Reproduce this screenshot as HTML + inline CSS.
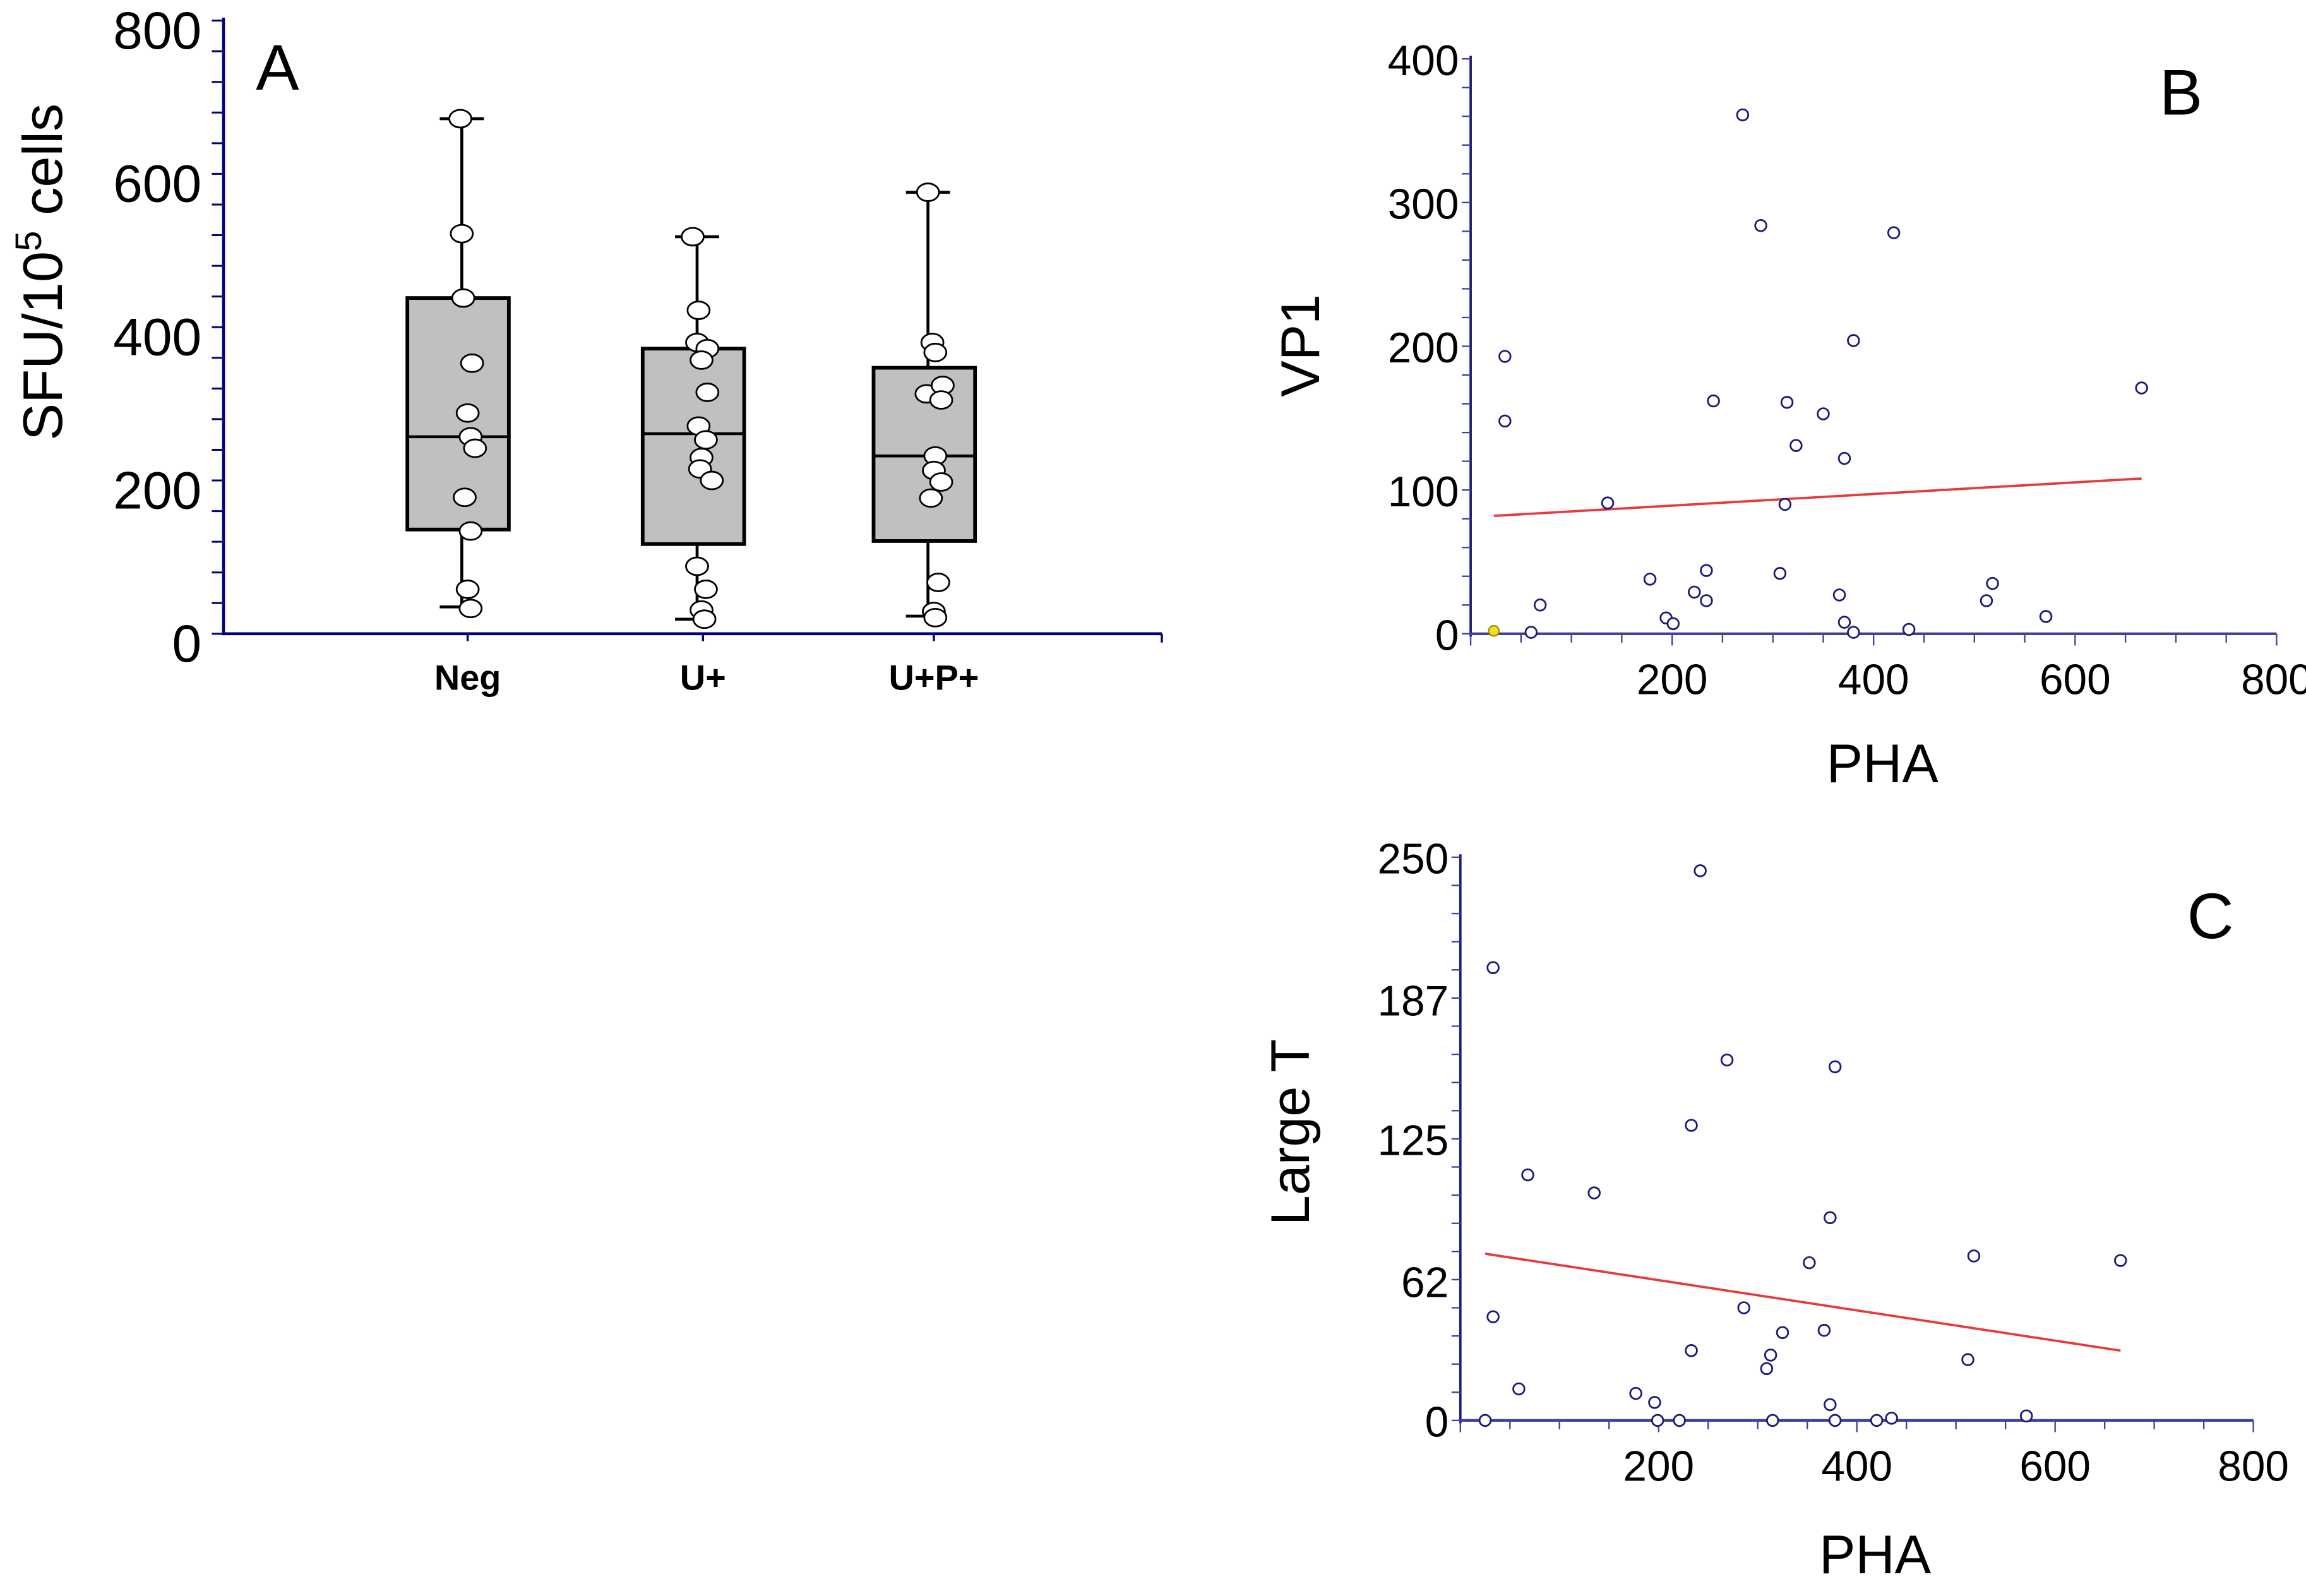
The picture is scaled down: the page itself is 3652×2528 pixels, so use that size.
<!DOCTYPE html>
<html><head><meta charset="utf-8"><style>
html,body{margin:0;padding:0;background:#fff}
svg{display:block}
text{font-family:"Liberation Sans",Arial,sans-serif}
</style></head><body>
<svg id="chart" width="3652" height="2528" viewBox="0 0 1568 1085.4" xmlns="http://www.w3.org/2000/svg">
<g id="pa"></g>
<g id="pb"></g>
<g id="pc"></g>
</svg>
<script>
// Panel A data
const catsA = ["Neg","U+","U+P+"];
const boxQ1 = [136,117,121];
const boxMed = [257,261,232];
const boxQ3 = [438,372,347];
const whiskLo = [35,19,23];
const whiskHi = [672,518,576];
const ptsNeg = [672,522,438,353,288,257,242,178,134,58,33];
const ptsU = [518,422,380,372,357,315,271,253,230,215,200,88,58,31,19];
const ptsUP = [576,380,367,313,324,305,232,213,198,177,67,29,21];
const jitNeg = [-5,-4,-3,3,0,2,5,-2,2,0,2];
const jitU = [-7,-3,-4,3,-1,3,-3,2,-1,-2,6,-4,2,-1,1];
const jitUP = [-4,-1,1,-5,6,5,1,0,5,-2,3,0,1];
const ticksA = [0,200,400,600,800];
// Panel B data
const phaB = [34,34,69,60,136,178,194,201,222,234,234,241,270,288,314,307,312,323,350,366,371,371,380,380,420,435,512,518,571,666];
const vp1 = [193,148,20,1,91,38,11,7,29,23,44,162,361,284,161,42,90,131,153,27,122,8,204,1,279,3,23,35,12,171];
const highlightB = [23,2];
const fitB = [[23,82],[666,108]];
const ticksBy = [0,100,200,300,400];
const ticksX = [200,400,600,800];
// Panel C data
const phaC = [33,33,25,59,68,135,177,196,199,221,233,242,233,269,286,309,313,315,325,352,367,373,378,378,420,435,373,512,518,571,666];
const largeT = [46,201,0,14,109,101,12,8,0,0,31,244,131,160,50,23,29,0,39,70,40,7,157,0,0,1,90,27,73,2,71];
const fitC = [[25,74],[666,31]];
const ticksCy = [0,62,125,187,250];
const NS="http://www.w3.org/2000/svg";
function mk(parent,tag,attrs,txt){const e=document.createElementNS(NS,tag);for(const k in attrs)e.setAttribute(k,attrs[k]);if(txt!==undefined)e.textContent=txt;parent.appendChild(e);return e;}
// ---------- Panel A
const pa=document.getElementById('pa');
const yA=v=>431-v*0.52125;
const xA=[318,478,635];
let e;
e=mk(pa,'line',{x1:152,y1:12,x2:152,y2:432,stroke:'#00007f','stroke-width':2});

e=mk(pa,'line',{x1:151,y1:431,x2:790,y2:431,stroke:'#00007f','stroke-width':2});

for(let v=0;v<=800;v+=40){mk(pa,'line',{x1:144,y1:yA(v),x2:152,y2:yA(v),stroke:'#00007f','stroke-width':1.3});}
mk(pa,'line',{x1:790,y1:431,x2:790,y2:437,stroke:'#00007f','stroke-width':1.5});
ticksA.forEach(v=>{e=mk(pa,'text',{x:137,y:yA(v)+19,'text-anchor':'end','font-size':36},String(v));
});
e=mk(pa,'text',{x:0,y:0,'font-size':38,transform:'translate(42,185) rotate(-90)','text-anchor':'middle'});

e.innerHTML='SFU/10<tspan dy="-14" font-size="25">5</tspan><tspan dy="14"> cells</tspan>';
e=mk(pa,'text',{x:174,y:61,'font-size':44},'A');
const ptsAll=[ptsNeg,ptsU,ptsUP], jitAll=[jitNeg,jitU,jitUP];
catsA.forEach((c,i)=>{
 const x=xA[i];
 mk(pa,'line',{x1:x,y1:431,x2:x,y2:436,stroke:'#00007f','stroke-width':1.5});
 e=mk(pa,'text',{x:x,y:469,'text-anchor':'middle','font-size':24,'font-weight':'bold'},c);
 
 e=mk(pa,'line',{x1:x-4,y1:yA(whiskHi[i]),x2:x-4,y2:yA(whiskLo[i]),stroke:'#000','stroke-width':2});
 
 mk(pa,'line',{x1:x-19,y1:yA(whiskHi[i]),x2:x+11,y2:yA(whiskHi[i]),stroke:'#000','stroke-width':2});
 mk(pa,'line',{x1:x-19,y1:yA(whiskLo[i]),x2:x+3,y2:yA(whiskLo[i]),stroke:'#000','stroke-width':2});
 e=mk(pa,'rect',{x:x-41,y:yA(boxQ3[i]),width:69,height:yA(boxQ1[i])-yA(boxQ3[i]),fill:'#c0c0c0',stroke:'#000','stroke-width':2.5});
 
 e=mk(pa,'line',{x1:x-41,y1:yA(boxMed[i]),x2:x+28,y2:yA(boxMed[i]),stroke:'#000','stroke-width':2});
 
 ptsAll[i].forEach((v,j)=>{e=mk(pa,'ellipse',{cx:x+jitAll[i][j],cy:yA(v),rx:7.5,ry:6,fill:'#fff',stroke:'#000','stroke-width':1.2});
 });
});
// ---------- scatter helper
function scatter(g,o){
 const xs=v=>o.x0+v*o.kx, ys=v=>o.y0-v*o.ky;
 e=mk(g,'line',{x1:o.x0,y1:ys(o.ymax)-2,x2:o.x0,y2:o.y0+2,stroke:'#1a1a7a','stroke-width':1.6});
 
 e=mk(g,'line',{x1:o.x0,y1:o.y0,x2:xs(800),y2:o.y0,stroke:'#4040a0','stroke-width':1.8});
 
 for(let v=0;v<=o.ymax+0.01;v+=o.ymax/20){mk(g,'line',{x1:o.x0-6,y1:ys(v),x2:o.x0,y2:ys(v),stroke:'#4040a0','stroke-width':1});}
 for(let v=0;v<=800;v+=50){mk(g,'line',{x1:xs(v),y1:o.y0,x2:xs(v),y2:o.y0+(v%200==0?8:6),stroke:'#4040a0','stroke-width':1});}
 o.ty.forEach(v=>{e=mk(g,'text',{x:o.x0-8,y:ys(v)+11,'text-anchor':'end','font-size':29},String(v));
 });
 ticksX.forEach(v=>{e=mk(g,'text',{x:xs(v),y:o.y0+41,'text-anchor':'middle','font-size':29},String(v));
 });
 e=mk(g,'line',{x1:xs(o.fit[0][0]),y1:ys(o.fit[0][1]),x2:xs(o.fit[1][0]),y2:ys(o.fit[1][1]),stroke:'#e83a3a','stroke-width':1.6});
 
 o.xd.forEach((v,i)=>{e=mk(g,'circle',{cx:xs(v),cy:ys(o.yd[i]),r:3.8,fill:'#fff',stroke:'#1a1a7a','stroke-width':1.2});
 });
 if(o.hl){e=mk(g,'circle',{cx:xs(o.hl[0]),cy:ys(o.hl[1]),r:3.5,fill:'#f0e020',stroke:'#a09000','stroke-width':1});
 }
 e=mk(g,'text',{x:o.xt[0],y:o.xt[1],'text-anchor':'middle','font-size':37},'PHA');
 
 e=mk(g,'text',{x:0,y:0,'font-size':37,'text-anchor':'middle',transform:`translate(${o.yt[0]},${o.yt[1]}) rotate(-90)`},o.ylab);
 
 e=mk(g,'text',{x:o.pl[0],y:o.pl[1],'text-anchor':'middle','font-size':44},o.pn);
 
}
scatter(document.getElementById('pb'),{x0:1000,y0:431,kx:0.685,ky:0.9775,ymax:400,ty:ticksBy,xd:phaB,yd:vp1,fit:fitB,hl:highlightB,xt:[1280,532],yt:[897,235],ylab:'VP1',pl:[1483,78],pn:'B'});
scatter(document.getElementById('pc'),{x0:993,y0:966,kx:0.674,ky:1.532,ymax:250,ty:ticksCy,xd:phaC,yd:largeT,fit:fitC,xt:[1275,1070],yt:[890,770],ylab:'Large T',pl:[1503,638],pn:'C'});
</script>
</body></html>
